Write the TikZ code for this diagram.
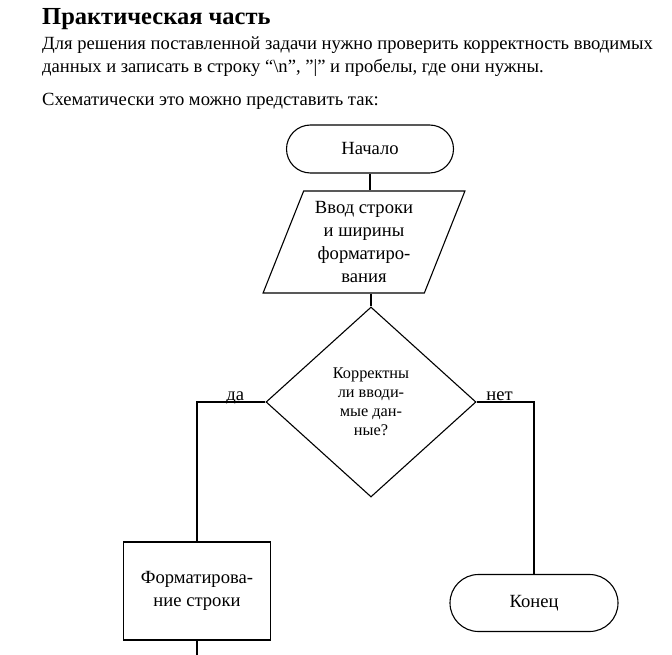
\documentclass[tikz,border=0pt]{standalone}
\usepackage{fontspec}
\setmainfont{Liberation Serif}
\usetikzlibrary{shapes.geometric,shapes.misc}

\begin{document}
\begin{tikzpicture}[x=1pt,y=-1pt,
    every node/.style={font=\fontsize{18.6}{23}\selectfont},
    line/.style={draw,line width=1.1pt}]
  \useasboundingbox (0,0) rectangle (672,655);

  % heading and text
  \begin{scope}[every node/.append style={anchor=base west,inner sep=0pt}]
    \node (title) at (42,25) {\fontsize{24.5}{28}\selectfont\bfseries Практическая часть};
    \node (par1) at (42,50) {Для решения поставленной задачи нужно проверить корректность вводимых};
    \node (par2) at (42,73) {данных и записать в строку “\textbackslash n”, ”|” и пробелы, где они нужны.};
    \node (par3) at (42,106) {Схематически это можно представить так:};
  \end{scope}

  % blocks
  \begin{scope}[every node/.append style={draw,line width=1.1pt,align=center,inner sep=1pt}]
    \node[rounded rectangle,minimum width=169,minimum height=48] (start) at (370,149) {Начало};
    \node[trapezium,trapezium left angle=68,trapezium right angle=112,
      trapezium stretches=true,minimum width=202,minimum height=102] (input) at (364,242)
      {Ввод строки\\и ширины\\форматиро-\\вания};
    \node[diamond,minimum width=210,minimum height=190,
      font=\fontsize{16.3}{19}\selectfont] (check) at (371,402)
      {Корректны\\ли вводи-\\мые дан-\\ные?};
    \node[rectangle,minimum width=147,minimum height=98] (format) at (197,591)
      {Форматирова-\\ние строки};
    \node[rounded rectangle,minimum width=170,minimum height=57] (stop) at (534,603) {Конец};
  \end{scope}

  \coordinate (out) at (197,655);

  % connectors
  \begin{scope}[every node/.append style={inner sep=1pt,text depth=0pt}]
    \path[line] (start.south) -- (start.south |- input.north);
    \path[line] (check.north |- input.south) -- (check.north);
    \path[line] (check.west) -| node[pos=0.22,above] {да} (format.north);
    \path[line] (check.east) -| node[pos=0.2,above] {нет} (stop.north);
    \path[line] (format.south) -- (out);
  \end{scope}

\end{tikzpicture}
\end{document}
